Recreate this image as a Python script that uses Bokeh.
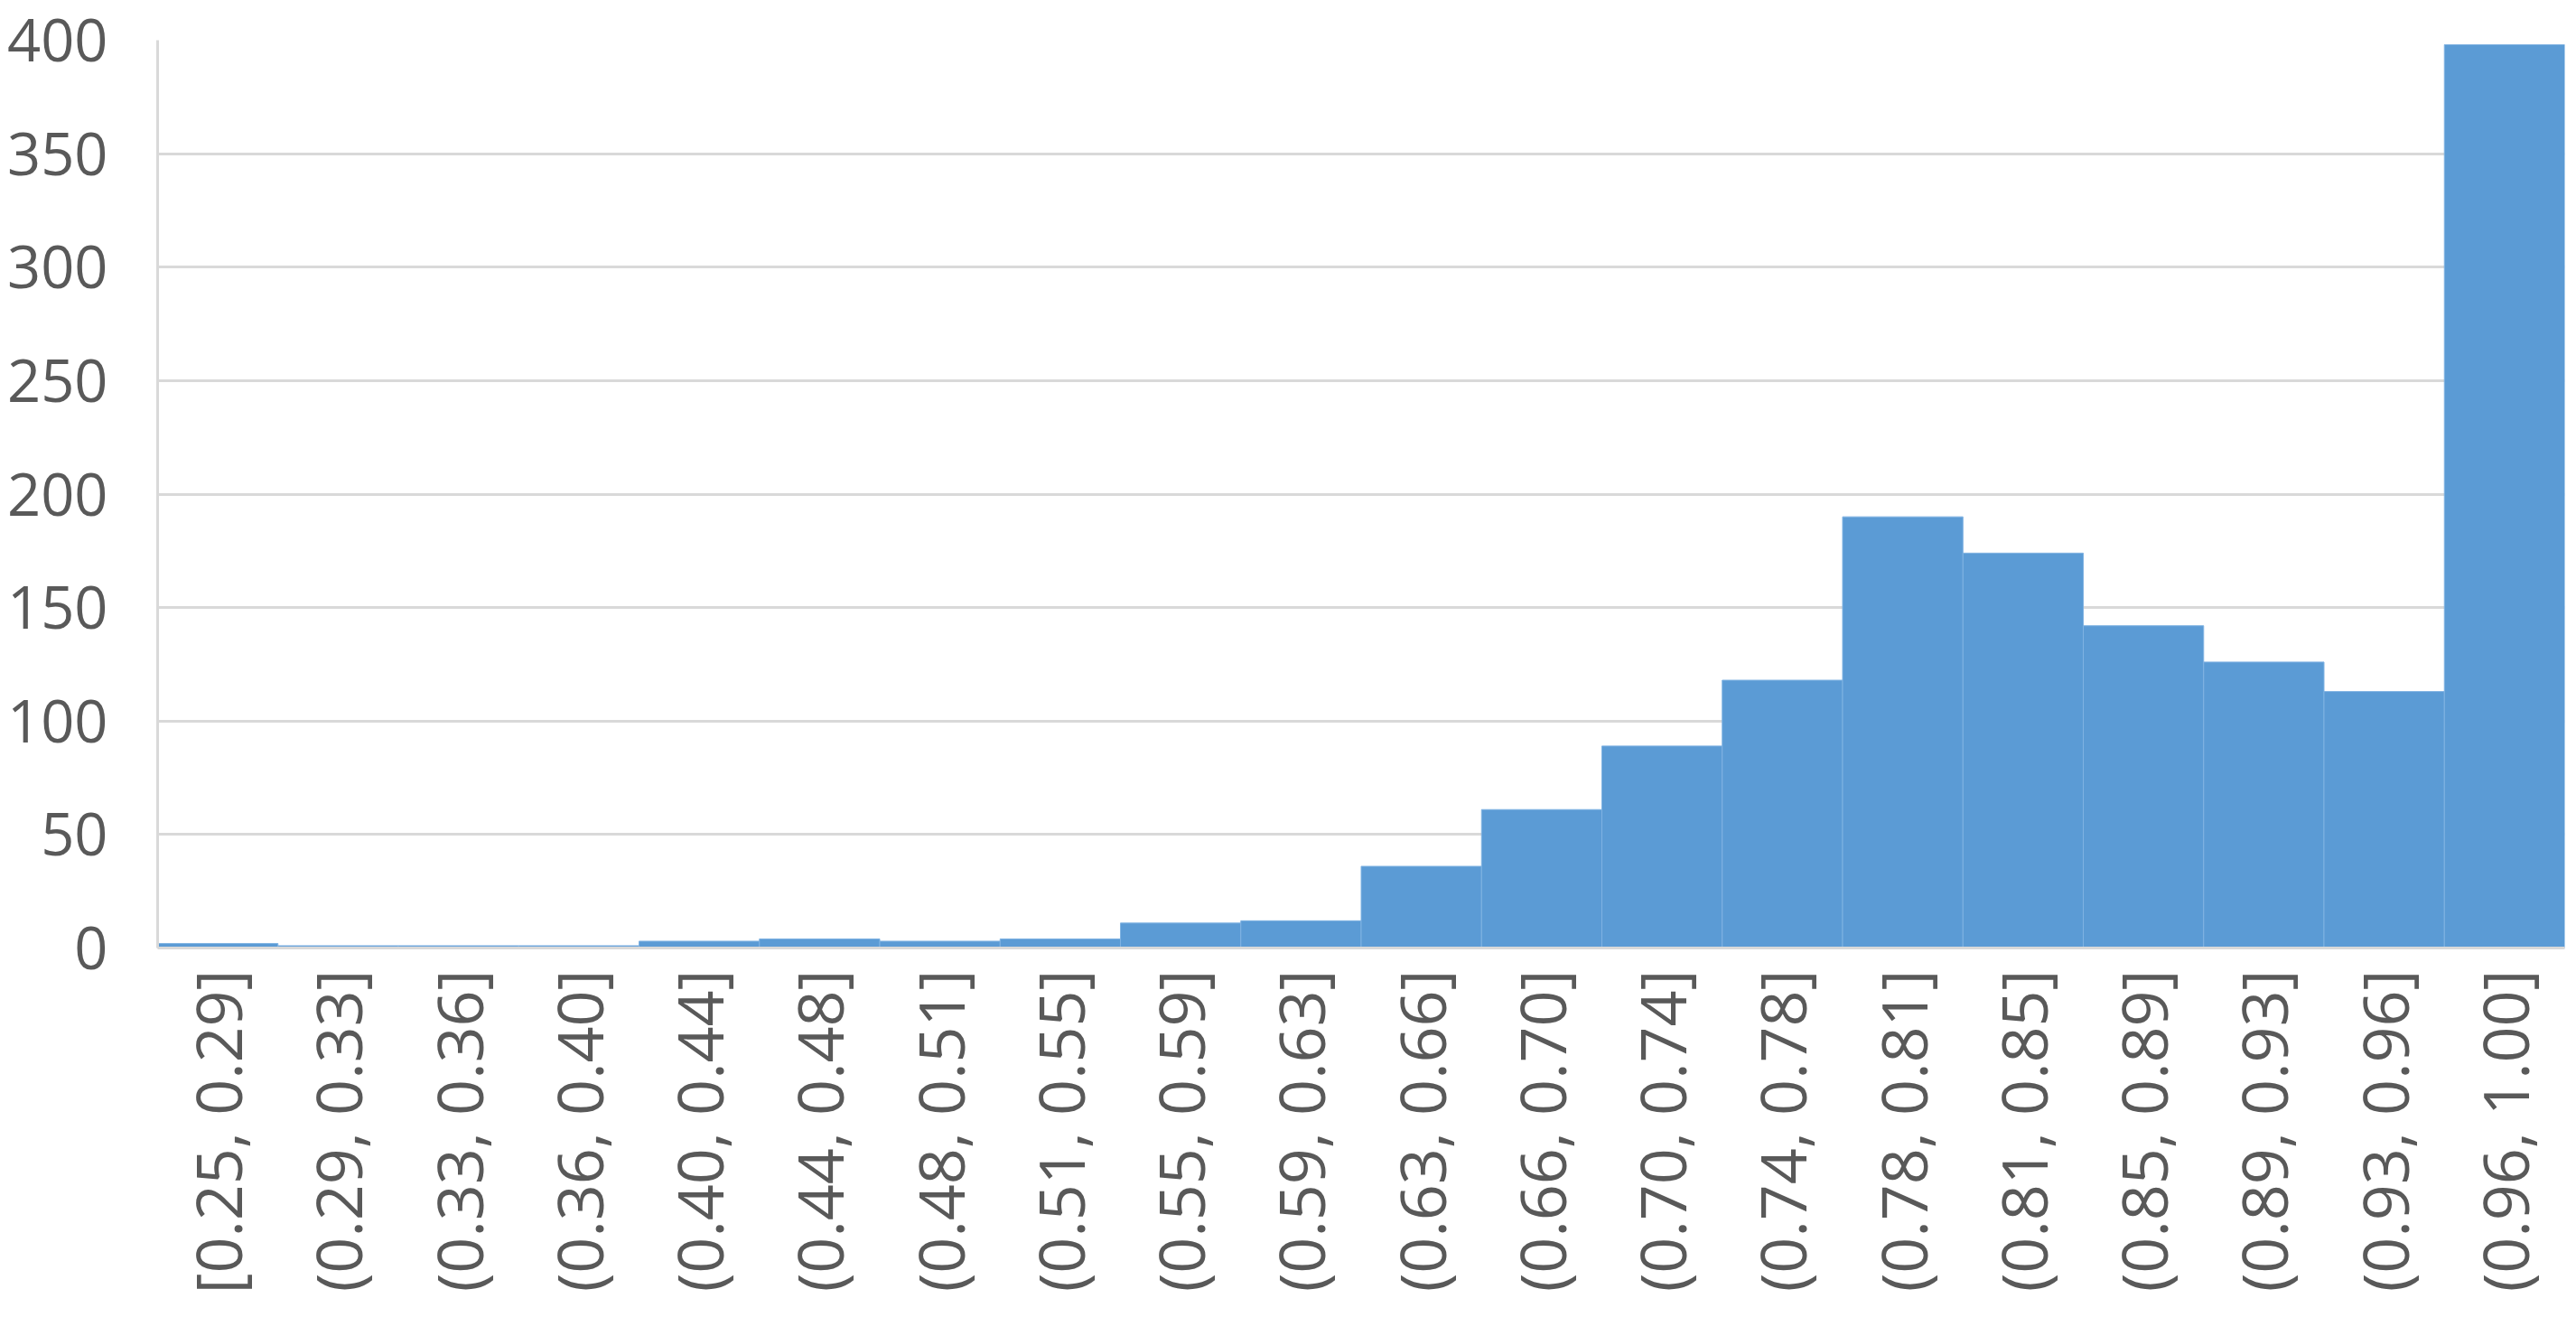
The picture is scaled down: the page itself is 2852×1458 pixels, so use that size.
from bokeh.plotting import figure
from bokeh.models import FactorRange, Range1d, FixedTicker, ColumnDataSource
from bokeh.embed import file_html
from bokeh.resources import INLINE
import math

categories = ["[0.25, 0.29]", "(0.29, 0.33]", "(0.33, 0.36]", "(0.36, 0.40]",
              "(0.40, 0.44]", "(0.44, 0.48]", "(0.48, 0.51]", "(0.51, 0.55]",
              "(0.55, 0.59]", "(0.59, 0.63]", "(0.63, 0.66]", "(0.66, 0.70]",
              "(0.70, 0.74]", "(0.74, 0.78]", "(0.78, 0.81]", "(0.81, 0.85]",
              "(0.85, 0.89]", "(0.89, 0.93]", "(0.93, 0.96]", "(0.96, 1.00]"]
counts = [2, 1, 1, 1, 3, 4, 3, 4, 11, 12, 36, 61, 89, 118, 190, 174, 142, 126, 113, 398]
y_ticks = [0, 50, 100, 150, 200, 250, 300, 350, 400]

source = ColumnDataSource(data=dict(cat=categories, count=counts))

p = figure(width=2844, height=1442, output_backend="svg", toolbar_location=None,
           x_range=FactorRange(*categories), y_range=Range1d(0, 400),
           min_border_left=174, min_border_right=5, min_border_top=44,
           min_border_bottom=393)

p.vbar(x="cat", top="count", bottom=0, width=1.0, source=source,
       fill_color="#5B9BD5", line_color="#7FB2E2", line_width=1)

p.outline_line_color = None
p.xgrid.grid_line_color = None
p.ygrid.grid_line_color = "#d9d9d9"
p.ygrid.grid_line_width = 3
p.yaxis.ticker = FixedTicker(ticks=y_ticks)

for ax in (p.xaxis, p.yaxis):
    ax.axis_line_color = "#d9d9d9"
    ax.axis_line_width = 3
    ax.major_tick_line_color = None
    ax.minor_tick_line_color = None
    ax.major_tick_out = 0
    ax.major_tick_in = 0
    ax.major_label_text_color = "#595959"
    ax.major_label_text_font = "Open Sans"

p.yaxis.major_label_text_font_size = "65px"
p.yaxis.major_label_standoff = 55
p.xaxis.major_label_text_font_size = "70px"
p.xaxis.major_label_standoff = 24
p.xaxis.major_label_orientation = math.pi / 2

open("out.html", "w").write(file_html(p, INLINE))
